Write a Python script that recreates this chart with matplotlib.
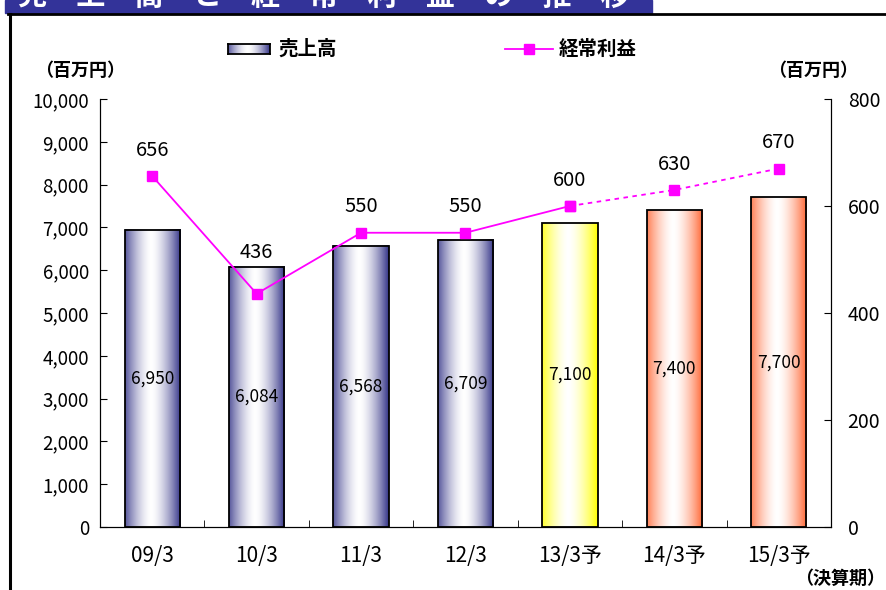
import numpy as np
import matplotlib
matplotlib.use('Agg')
import matplotlib.pyplot as plt
from matplotlib.lines import Line2D
from matplotlib.patches import Rectangle

plt.rcParams['font.family'] = ['Noto Sans CJK JP', 'DejaVu Sans']

# データ
periods = ['09/3', '10/3', '11/3', '12/3', '13/3予', '14/3予', '15/3予']
sales = [6950, 6084, 6568, 6709, 7100, 7400, 7700]
profit = [656, 436, 550, 550, 600, 630, 670]
bar_kind = ['actual', 'actual', 'actual', 'actual', 'plan', 'forecast', 'forecast']
n_solid = 5   # 実績側は実線、以降は点線

edge_cols = {'actual': (0.20, 0.20, 0.53), 'plan': (1.0, 1.0, 0.0),
             'forecast': (1.0, 0.40, 0.20)}


def gradient(col, n=200):
    # 両端が色、中央が白の横グラデーション
    u = np.linspace(0, 1, n)
    t = np.clip(np.abs(u - 0.47) / 0.53, 0, 1) ** 1.6
    c = np.array(col)
    img = (1 - t)[:, None] * np.ones(3) + t[:, None] * c
    return img[None, :, :]


fig = plt.figure(figsize=(8.86, 5.90), dpi=100)

# タイトル帯 (上部が切れている)
fig.patches.append(Rectangle((5/886, 1 - 13/590), 647/886, 13/590,
                             transform=fig.transFigure, color='#333399', zorder=1))
fig.text(18/886, 1 - 11/590, '売　上　高　と　経　常　利　益　の　推　移',
         color='white', fontsize=21, weight='bold', va='bottom', ha='left', zorder=2)
fig.add_artist(Line2D([8/886, 1], [1 - 14/590] * 2, transform=fig.transFigure,
                      color='black', lw=2))
fig.add_artist(Line2D([9.5/886] * 2, [0, 1 - 14/590], transform=fig.transFigure,
                      color='black', lw=2.2))

ax = fig.add_axes([100/886, 1 - 527/590, 731/886, 428/590])
x = np.arange(len(periods))
w = 0.53

for xi, v, k in zip(x, sales, bar_kind):
    ax.imshow(gradient(edge_cols[k]), extent=(xi - w/2, xi + w/2, 0, v),
              aspect='auto', zorder=2, interpolation='bilinear')
bars = ax.bar(x, sales, w, facecolor='none', edgecolor='black', lw=1.3, zorder=3)
for b, v in zip(bars, sales):
    ax.text(b.get_x() + b.get_width()/2, v/2, f'{v:,}', ha='center', va='center',
            fontsize=12.5, zorder=4)

ax.set_xlim(-0.5, len(periods) - 0.5)
ax.set_ylim(0, 10000)
ax.set_yticks(np.arange(0, 10001, 1000))
ax.set_yticklabels([f'{v:,}' for v in range(0, 10001, 1000)])
ax.set_xticks(x)
ax.set_xticklabels(periods)
ax.set_xticks(np.arange(0.5, len(periods) - 1, 1), minor=True)
ax.tick_params(axis='x', which='major', length=0, pad=13, labelsize=15)
ax.tick_params(axis='x', which='minor', direction='in', length=5)
ax.tick_params(axis='y', direction='in', length=5, labelsize=13.5, pad=8)
ax.spines['top'].set_visible(False)

ax2 = ax.twinx()
ax2.set_ylim(0, 800)
ax2.set_yticks(np.arange(0, 801, 200))
ax2.tick_params(axis='y', direction='in', length=5, labelsize=14, pad=12)
ax2.spines['top'].set_visible(False)

mag = '#ff00ff'
ax2.plot(x[:n_solid], profit[:n_solid], color=mag, lw=1.3, marker='s', ms=7, zorder=5)
ax2.plot(x[n_solid - 1:], profit[n_solid - 1:], color=mag, lw=1.3, ls=(0, (2.5, 2.5)),
         marker='s', ms=7, zorder=5)
label_off = [11, 22, 11, 11, 11, 11, 11]
for xi, v, off in zip(x, profit, label_off):
    ax2.annotate(f'{v}', (xi, v), xytext=(0, off), textcoords='offset points',
                 ha='center', va='bottom', fontsize=14.5)

# 単位ラベル
fig.text(80/886, 1 - 70/590, '（百万円）', ha='center', va='center', fontsize=13, weight='bold')
fig.text(813/886, 1 - 70/590, '（百万円）', ha='center', va='center', fontsize=13, weight='bold')
fig.text(840/886, 1 - 578/590, '（決算期）', ha='center', va='center', fontsize=13, weight='bold')

# 凡例
lax = fig.add_axes([228/886, 1 - 54/590, 42/886, 10/590])
lax.imshow(gradient(edge_cols['actual']), aspect='auto', extent=(0, 1, 0, 1))
lax.set_xticks([])
lax.set_yticks([])
for s in lax.spines.values():
    s.set_linewidth(1.3)
fig.text(278/886, 1 - 49/590, '売上高', ha='left', va='center', fontsize=14, weight='bold')
fig.add_artist(Line2D([505/886, 553/886], [1 - 49/590] * 2, transform=fig.transFigure,
                      color=mag, lw=1.3))
fig.add_artist(Line2D([529/886], [1 - 49/590], transform=fig.transFigure,
                      color=mag, marker='s', ms=7, ls='none'))
fig.text(559/886, 1 - 49/590, '経常利益', ha='left', va='center', fontsize=14, weight='bold')

fig.savefig('out.png', dpi=100)
